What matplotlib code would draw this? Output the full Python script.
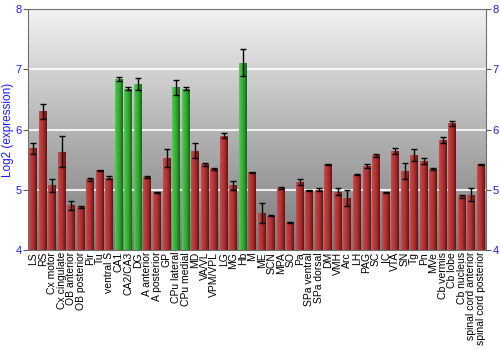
import numpy as np
import matplotlib
matplotlib.use("Agg")
import matplotlib.pyplot as plt
from matplotlib.colors import LinearSegmentedColormap

regions = ["LS", "RS", "Cx motor", "Cx cingulate", "OB anterior", "OB posterior", "Pir", "Tu",
           "ventral S", "CA1", "CA2/CA3", "DG", "A anterior", "A posterior", "GP", "CPu lateral",
           "CPu medial", "MD", "VA/VL", "VPM/VPL", "LG", "MG", "Hb", "M", "ME", "SCN", "MPA", "SO",
           "Pa", "SPa ventral", "SPa dorsal", "DM", "VMH", "Arc", "LH", "PAG", "SC", "IC", "VTA",
           "SN", "Tg", "Pn", "MVe", "Cb vermis", "Cb lobe", "Cb nucleus", "spinal cord anterior",
           "spinal cord posterior"]
expression = [5.69, 6.30, 5.07, 5.63, 4.74, 4.71, 5.17, 5.32, 5.20, 6.84, 6.68, 6.76, 5.21, 4.96,
              5.52, 6.70, 6.68, 5.65, 5.42, 5.34, 5.90, 5.07, 7.11, 5.29, 4.61, 4.57, 5.03, 4.46,
              5.12, 4.99, 5.00, 5.42, 4.97, 4.86, 5.25, 5.39, 5.57, 4.96, 5.65, 5.31, 5.57, 5.47,
              5.34, 5.83, 6.10, 4.89, 4.92, 5.42]
errors = [0.09, 0.12, 0.10, 0.26, 0.07, 0.02, 0.02, 0.01, 0.02, 0.04, 0.02, 0.10, 0.02, 0.01,
          0.15, 0.13, 0.03, 0.12, 0.02, 0.02, 0.04, 0.07, 0.22, 0.01, 0.17, 0.01, 0.02, 0.01,
          0.05, 0.005, 0.02, 0.01, 0.06, 0.13, 0.01, 0.03, 0.02, 0.01, 0.05, 0.13, 0.10, 0.05,
          0.02, 0.05, 0.04, 0.02, 0.11, 0.01]
highlighted = ["CA1", "CA2/CA3", "DG", "CPu lateral", "CPu medial", "Hb"]

red_cmap = LinearSegmentedColormap.from_list("r", ["#c85050", "#bb3a3a", "#b03434", "#8e2424", "#6a1010"])
green_cmap = LinearSegmentedColormap.from_list("g", ["#5ccc5c", "#40b840", "#36ac36", "#248c24", "#136613"])
bg_cmap = LinearSegmentedColormap.from_list("bg", ["#7a7a7a", "#b4b4b4", "#f2f2f2"])

fig = plt.figure(figsize=(5, 3.5), dpi=100)
ax = fig.add_axes([0.056, 0.286, 0.916, 0.688])

x = np.arange(len(regions))

# background gradient
ax.imshow(np.linspace(0, 1, 256).reshape(-1, 1)[::-1], extent=[0, 1, 0, 1], transform=ax.transAxes,
          cmap=bg_cmap, aspect="auto", zorder=0)
for yv in [5, 6, 7]:
    ax.axhline(yv, color="white", lw=1.5, alpha=0.85, zorder=1)

width = 0.84
bars = ax.bar(x, np.array(expression) - 4, width, bottom=4, color="none", zorder=2)
grad = np.linspace(0, 1, 64).reshape(1, -1)
for xi, bar, name, v in zip(x, bars, regions, expression):
    cm = green_cmap if name in highlighted else red_cmap
    im = ax.imshow(grad, extent=[xi - width / 2, xi + width / 2, 4, v], cmap=cm,
                   aspect="auto", zorder=2)
    im.set_clip_path(bar)

ax.errorbar(x, expression, yerr=errors, fmt="none", ecolor="black", elinewidth=1,
            capsize=2, capthick=1, zorder=3)

ax.set_xlim(-0.55, len(regions) - 0.45)
ax.set_ylim(4, 8)
ax.set_xticks(x)
ax.set_xticklabels(regions, rotation=90, fontsize=7.5, family="Liberation Sans")
ax.tick_params(axis="x", length=0, pad=1.5)
ax.set_yticks([4, 5, 6, 7, 8])
ax.tick_params(axis="y", colors="#5a5a5a", labelcolor="#1a1aff", labelsize=8, length=3.5, pad=1,
               left=True, right=True, labelleft=True, labelright=True)
for lab in ax.get_yticklabels():
    lab.set_family("Liberation Sans")
ax.set_ylabel("Log2 (expression)", color="#1a1aff", fontsize=8.5, family="Liberation Sans", labelpad=1)
for s in ax.spines.values():
    s.set_color("#707070")
    s.set_zorder(4)

fig.savefig("out.png", dpi=100)
